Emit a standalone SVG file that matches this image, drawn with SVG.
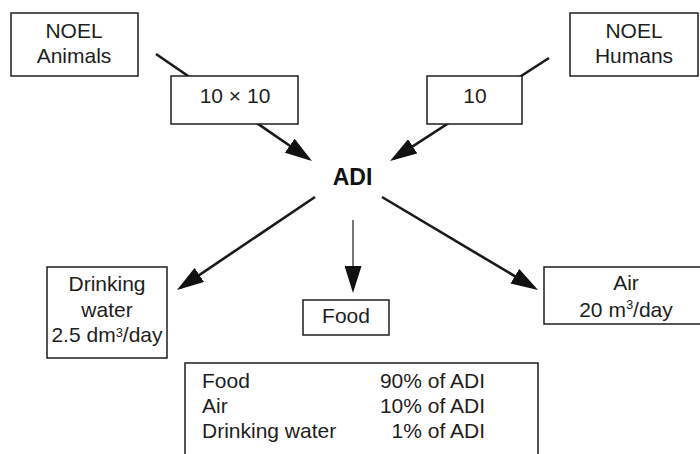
<svg xmlns="http://www.w3.org/2000/svg" width="700" height="454" viewBox="0 0 700 454">
  <style>
    .box { fill: #ffffff; stroke: #1e1e1e; stroke-width: 1.5; }
    .lbl { font-family: "Liberation Sans", Arial, Helvetica, sans-serif; font-size: 21px; fill: #1e1e1e; text-anchor: middle; }
    .lft { text-anchor: start; }
    .rgt { text-anchor: end; }
    .hub { font-family: "Liberation Sans", Arial, Helvetica, sans-serif; font-size: 23px; font-weight: bold; fill: #111111; text-anchor: middle; }
    .sup { font-size: 13px; }
    .edge { fill: none; stroke: #1a1a1a; stroke-width: 2.6; }
    .edge-thin { fill: none; stroke: #555555; stroke-width: 1.6; }
  </style>
  <defs>
    <marker id="head" markerUnits="userSpaceOnUse" markerWidth="27" markerHeight="17" refX="23" refY="8.5" orient="auto">
      <path d="M0,0 L27,8.5 L0,17 Z" fill="#111111"/>
    </marker>
  </defs>

  <rect width="700" height="454" fill="#ffffff"/>

  <!-- connectors -->
  <g id="connectors">
    <line class="edge" x1="156" y1="54" x2="308.7" y2="158.7" marker-end="url(#head)"/>
    <line class="edge" x1="549" y1="58" x2="393.4" y2="158.8" marker-end="url(#head)"/>
    <line class="edge" x1="315" y1="197" x2="180.3" y2="287.8" marker-end="url(#head)"/>
    <line class="edge-thin" x1="353" y1="220" x2="353" y2="289" marker-end="url(#head)"/>
    <line class="edge" x1="382" y1="197" x2="534.6" y2="288" marker-end="url(#head)"/>
  </g>

  <!-- nodes -->
  <g id="noel-animals">
    <rect class="box" x="11" y="13" width="127" height="63"/>
    <text class="lbl" x="74" y="38">NOEL</text>
    <text class="lbl" x="74" y="63">Animals</text>
  </g>

  <g id="factor-animals">
    <rect class="box" x="171" y="76" width="127" height="48"/>
    <text class="lbl" x="235" y="103">10 × 10</text>
  </g>

  <g id="noel-humans">
    <rect class="box" x="570" y="13" width="128" height="63"/>
    <text class="lbl" x="634" y="38">NOEL</text>
    <text class="lbl" x="634" y="63">Humans</text>
  </g>

  <g id="factor-humans">
    <rect class="box" x="427" y="76" width="95" height="48"/>
    <text class="lbl" x="475" y="103">10</text>
  </g>

  <g id="adi">
    <text class="hub" x="352.5" y="185">ADI</text>
  </g>

  <g id="drinking-water">
    <rect class="box" x="47" y="267" width="120" height="91"/>
    <text class="lbl" x="107" y="291">Drinking</text>
    <text class="lbl" x="107" y="317">water</text>
    <text class="lbl" x="107" y="342">2.5 dm<tspan class="sup" dy="-5">3</tspan><tspan dy="5">/day</tspan></text>
  </g>

  <g id="food">
    <rect class="box" x="303" y="300" width="86" height="35"/>
    <text class="lbl" x="346" y="323">Food</text>
  </g>

  <g id="air">
    <rect class="box" x="544" y="267" width="162" height="57"/>
    <text class="lbl" x="626" y="290">Air</text>
    <text class="lbl" x="626" y="317">20 m<tspan class="sup" dy="-8">3</tspan><tspan dy="8">/day</tspan></text>
  </g>

  <g id="shares">
    <path class="box" d="M185,460 V363 H538 V460"/>
    <text class="lbl lft" x="202" y="388">Food</text>
    <text class="lbl lft" x="202" y="413">Air</text>
    <text class="lbl lft" x="202" y="438">Drinking water</text>
    <text class="lbl rgt" x="485" y="388">90% of ADI</text>
    <text class="lbl rgt" x="485" y="413">10% of ADI</text>
    <text class="lbl rgt" x="485" y="438">1% of ADI</text>
  </g>
</svg>
